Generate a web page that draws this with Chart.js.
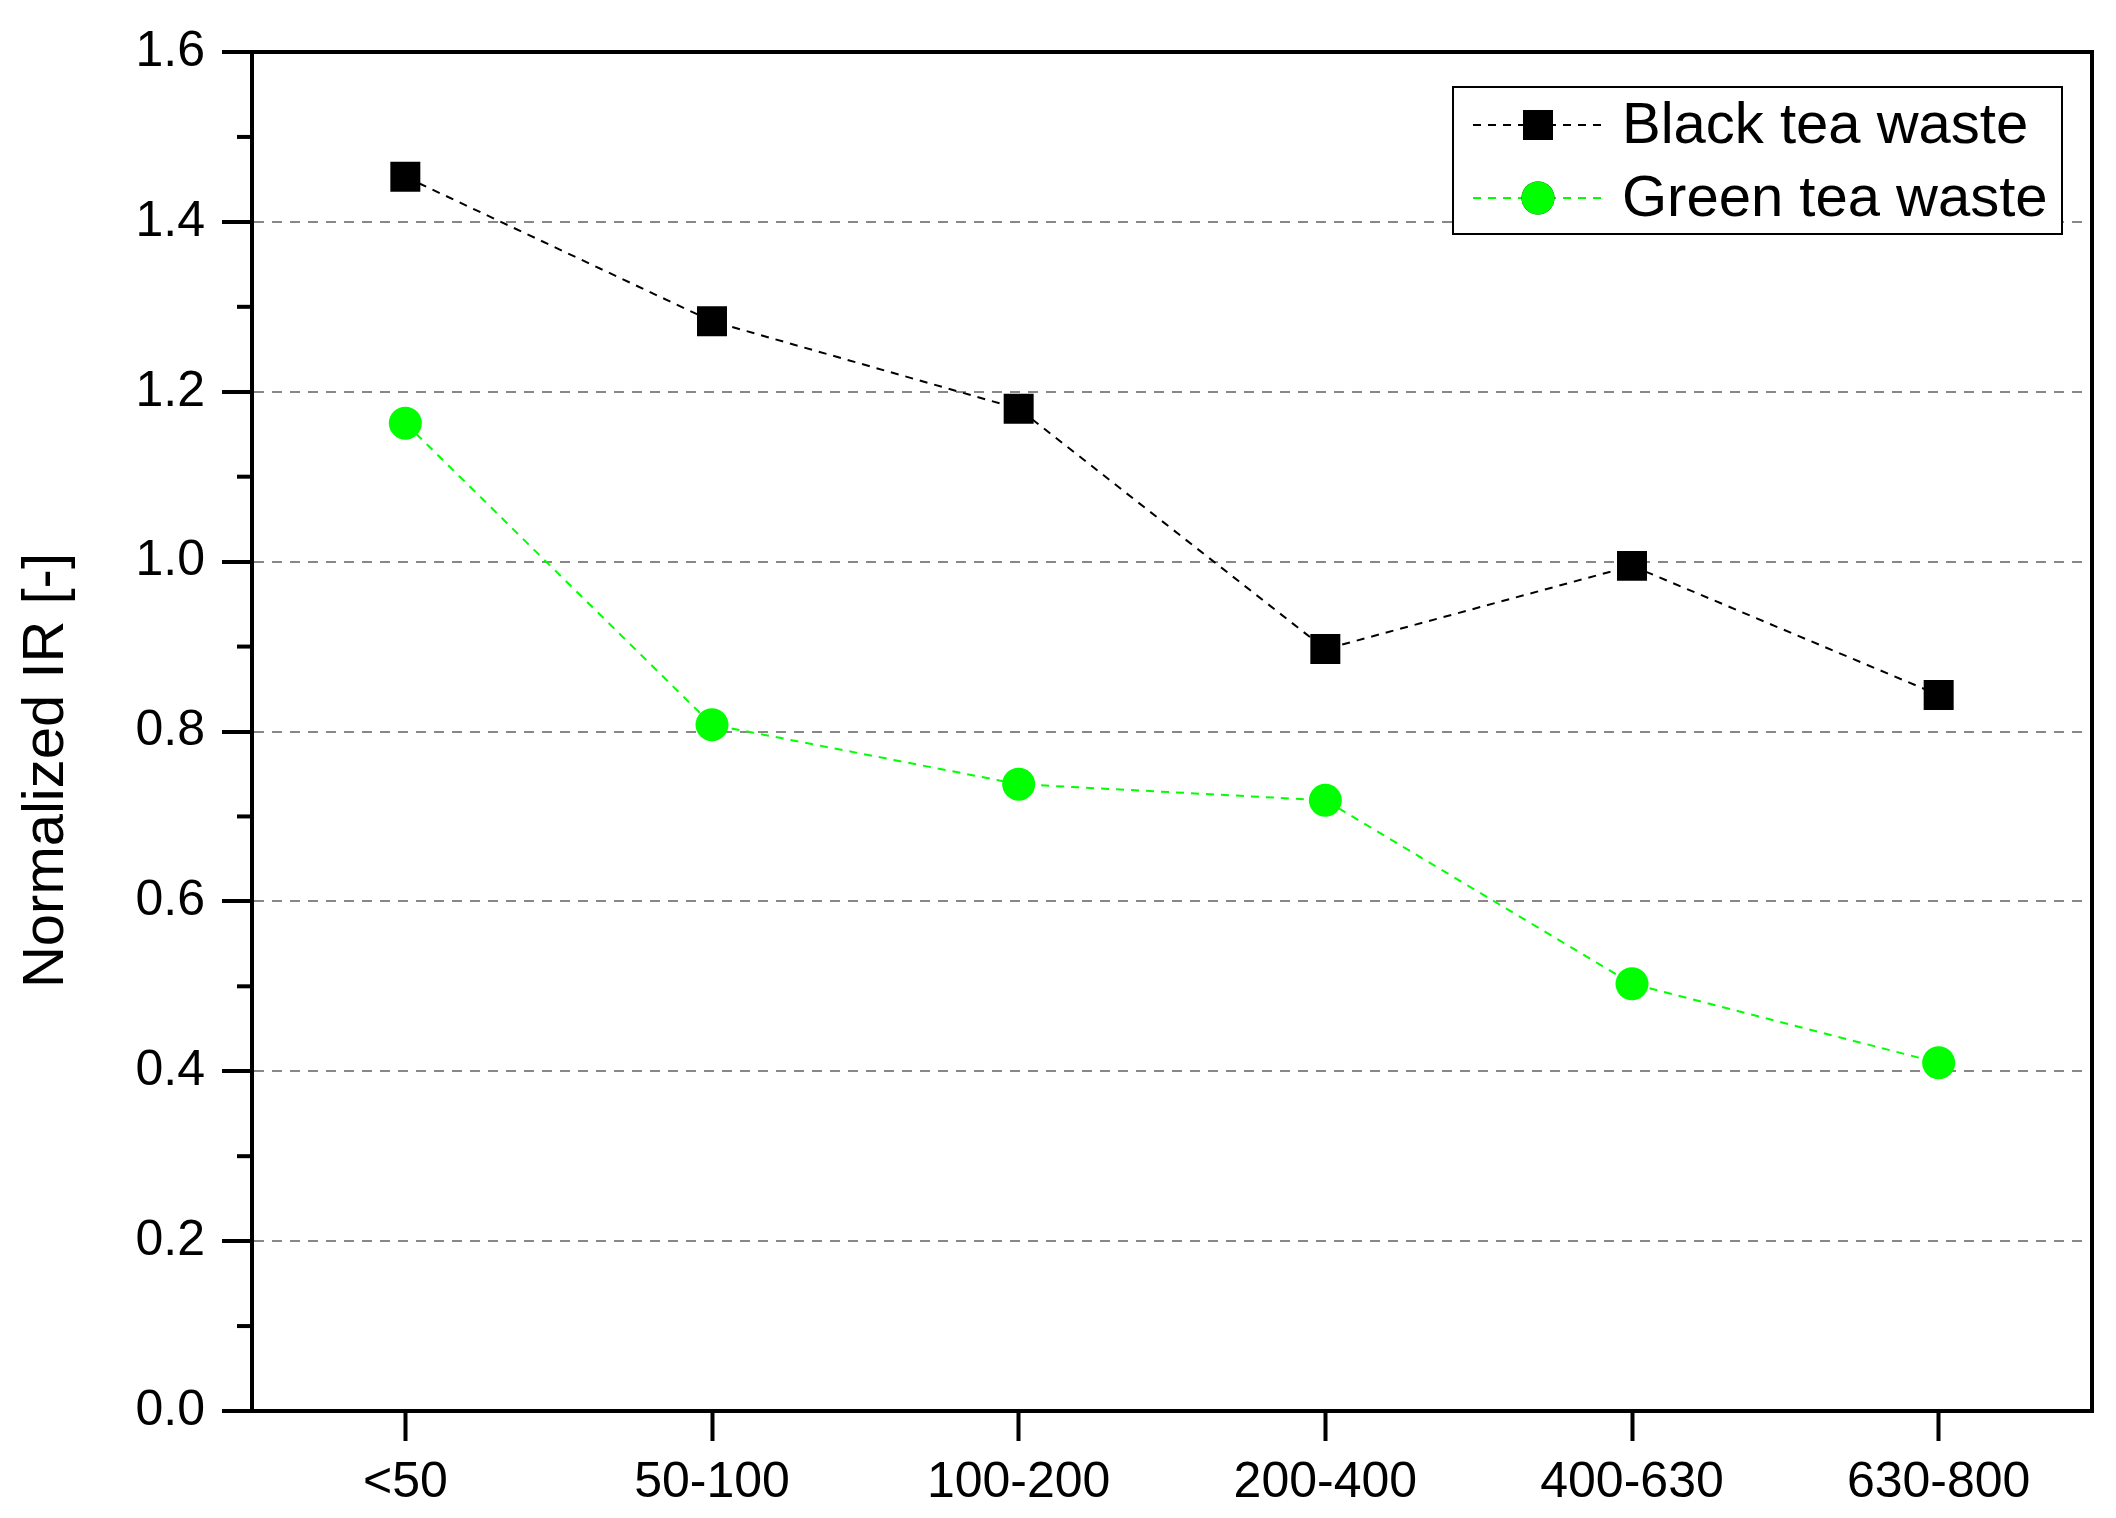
<!DOCTYPE html>
<html>
<head>
<meta charset="utf-8">
<script src="https://cdn.jsdelivr.net/npm/chart.js@4.4.1/dist/chart.umd.min.js"></script>
<style>
  body { margin: 0; padding: 0; background: white; }
  canvas { display: block; }
</style>
</head>
<body>
<canvas id="chart" width="2116" height="1518"></canvas>
<script>
// values
const categories = ['<50', '50-100', '100-200', '200-400', '400-630', '630-800'];
const blackTea = [1.453, 1.283, 1.180, 0.897, 0.995, 0.843];
const greenTea = [1.163, 0.808, 0.738, 0.719, 0.503, 0.410];
const seriesNames = ['Black tea waste', 'Green tea waste'];
const yMin = 0;
const yMax = 1.6;
const yStep = 0.2;
const yMinorTicks = [0.1, 0.3, 0.5, 0.7, 0.9, 1.1, 1.3, 1.5];
const yTitle = 'Normalized IR [-]';

const FONT = '"Liberation Sans", Arial, sans-serif';
Chart.defaults.font.family = FONT;
Chart.defaults.color = '#000';

// frame, minor ticks, axis title and boxed legend
const decorations = {
    id: 'decorations',
    afterDraw(chart) {
        const ctx = chart.ctx;
        const area = chart.chartArea;
        const y = chart.scales.y;

        ctx.save();
        ctx.strokeStyle = '#000';
        ctx.lineWidth = 4;
        ctx.beginPath();
        ctx.moveTo(area.left - 2, area.top);
        ctx.lineTo(area.right, area.top);
        ctx.lineTo(area.right, area.bottom + 2);
        ctx.stroke();

        // minor ticks on the y axis
        yMinorTicks.forEach(v => {
            const py = y.getPixelForValue(v);
            ctx.beginPath();
            ctx.moveTo(area.left - 15, py);
            ctx.lineTo(area.left, py);
            ctx.stroke();
        });

        // y axis title
        ctx.save();
        ctx.translate(63, (area.top + area.bottom) / 2 + 39);
        ctx.rotate(-Math.PI / 2);
        ctx.font = '58px ' + FONT;
        ctx.fillStyle = '#000';
        ctx.textAlign = 'center';
        ctx.textBaseline = 'alphabetic';
        ctx.fillText(yTitle, 0, 0);
        ctx.restore();

        // legend box
        const bx = area.right - 30 - 609, by = area.top + 35, bw = 609, bh = 147;
        ctx.lineWidth = 2;
        ctx.fillStyle = '#fff';
        ctx.fillRect(bx, by, bw, bh);
        ctx.strokeRect(bx, by, bw, bh);

        chart.data.datasets.forEach((ds, i) => {
            const rowY = by + 38 + i * 73;
            const x0 = bx + 20, x1 = bx + 150, mx = bx + 85;
            ctx.strokeStyle = ds.borderColor;
            ctx.lineWidth = ds.borderWidth;
            ctx.setLineDash(ds.borderDash);
            ctx.beginPath();
            ctx.moveTo(x0, rowY);
            ctx.lineTo(x1, rowY);
            ctx.stroke();
            ctx.setLineDash([]);
            Chart.helpers.drawPoint(ctx, {
                pointStyle: ds.pointStyle,
                radius: ds.pointRadius,
                rotation: 0,
                borderWidth: 0
            }, mx, rowY);
            ctx.fillStyle = ds.pointBackgroundColor;
            ctx.fill();
            ctx.fillStyle = '#000';
            ctx.font = '58px ' + FONT;
            ctx.textAlign = 'left';
            ctx.textBaseline = 'middle';
            ctx.fillText(ds.label, bx + 169, rowY + 2);
        });
        ctx.restore();
    }
};

new Chart(document.getElementById('chart').getContext('2d'), {
    type: 'line',
    data: {
        labels: categories,
        datasets: [{
            label: seriesNames[0],
            data: blackTea,
            borderColor: '#000000',
            borderWidth: 2,
            borderDash: [8, 7],
            pointStyle: 'rect',
            pointRadius: 21.2,
            pointBorderWidth: 0,
            pointBackgroundColor: '#000000',
            tension: 0
        }, {
            label: seriesNames[1],
            data: greenTea,
            borderColor: '#00ff00',
            borderWidth: 2,
            borderDash: [8, 7],
            pointStyle: 'circle',
            pointRadius: 16.5,
            pointBorderWidth: 0,
            pointBackgroundColor: '#00ff00',
            tension: 0
        }]
    },
    options: {
        responsive: false,
        animation: false,
        layout: { padding: { top: 52, right: 24, left: 0, bottom: 0 } },
        plugins: {
            legend: { display: false },
            tooltip: { enabled: false }
        },
        scales: {
            x: {
                type: 'category',
                offset: true,
                afterFit(scale) { scale.height = 107; },
                grid: {
                    drawOnChartArea: false,
                    drawTicks: true,
                    tickLength: 30,
                    tickWidth: 4,
                    tickColor: '#000'
                },
                border: { color: '#000', width: 4 },
                ticks: {
                    font: { size: 50 },
                    color: '#000',
                    padding: 12,
                    maxRotation: 0,
                    autoSkip: false
                }
            },
            y: {
                min: yMin,
                max: yMax,
                afterFit(scale) { scale.width = 252; },
                grid: {
                    color: c => (Math.abs(c.tick.value - yMin) < 1e-6 || Math.abs(c.tick.value - yMax) < 1e-6)
                        ? 'rgba(0,0,0,0)' : '#888888',
                    lineWidth: 2,
                    drawTicks: true,
                    tickLength: 30,
                    tickWidth: 4,
                    tickColor: '#000'
                },
                border: { color: '#000', width: 4, dash: [10, 8] },
                ticks: {
                    stepSize: yStep,
                    font: { size: 50 },
                    color: '#000',
                    padding: 17,
                    callback: v => v.toFixed(1)
                }
            }
        }
    },
    plugins: [decorations]
});
</script>
</body>
</html>
